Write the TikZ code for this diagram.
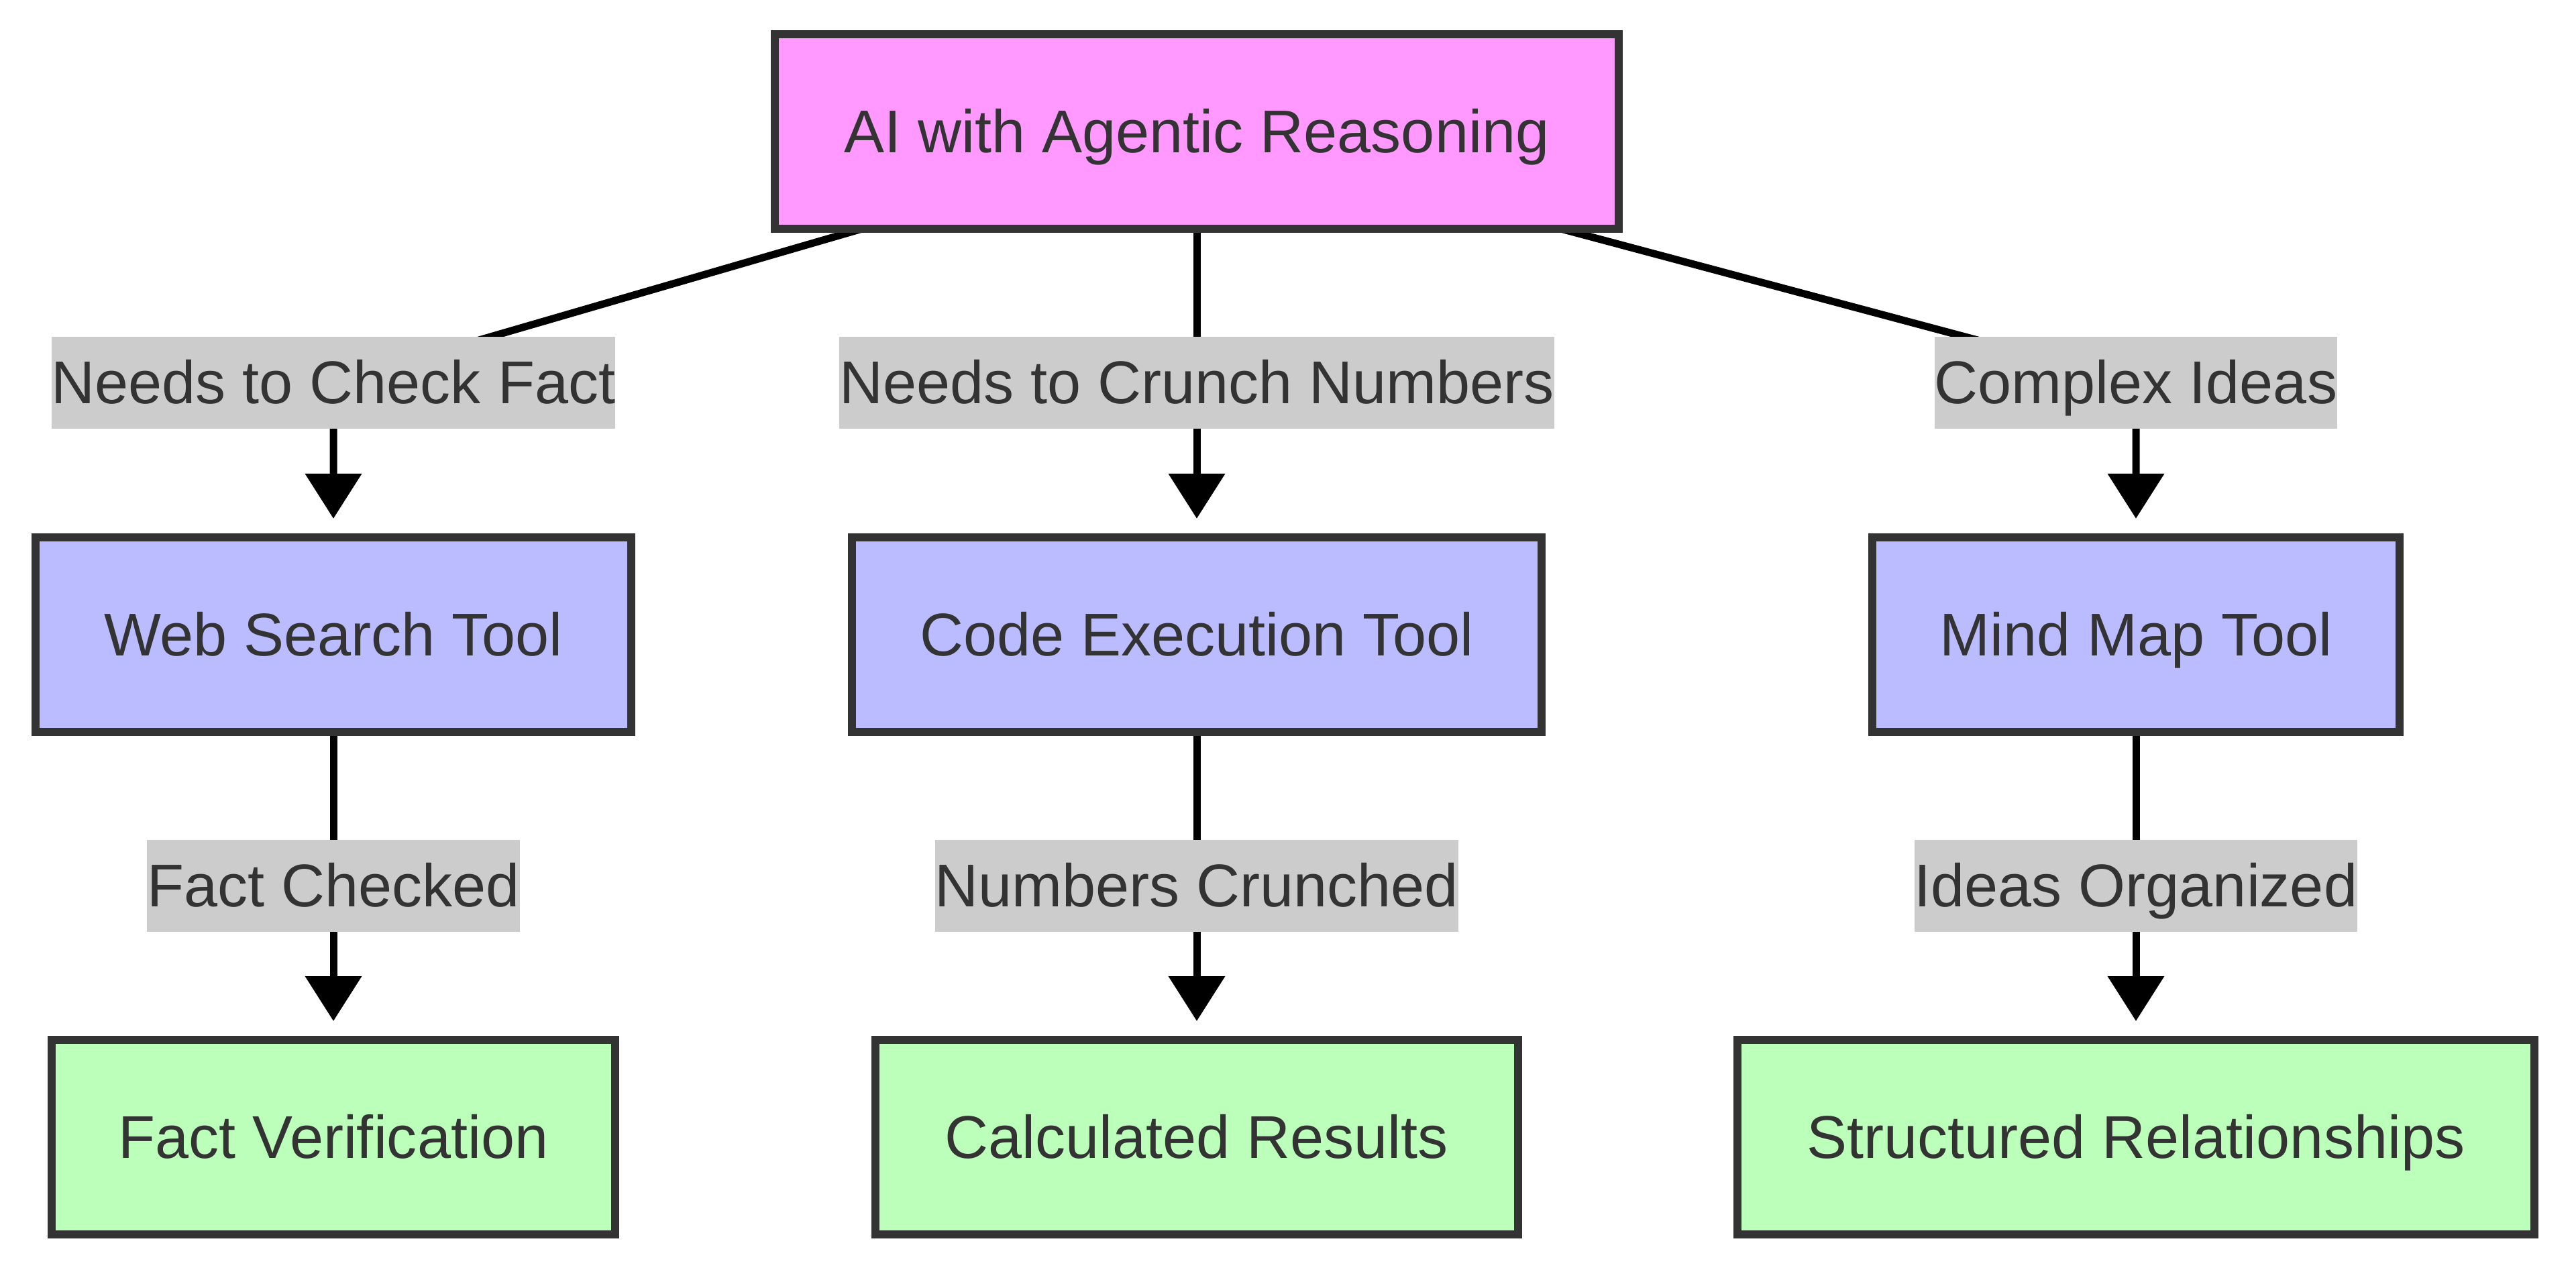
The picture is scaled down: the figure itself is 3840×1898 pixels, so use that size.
\documentclass[tikz,border=0pt]{standalone}
\usepackage{fontspec}
\setmainfont{Liberation Sans}
\usetikzlibrary{arrows.meta,backgrounds}
\definecolor{txt}{HTML}{333333}
\definecolor{pinkfill}{HTML}{FF99FF}
\definecolor{bluefill}{HTML}{BBBBFF}
\definecolor{greenfill}{HTML}{BBFFBB}
\definecolor{lblbg}{HTML}{CCCCCC}
\begin{document}
\begin{tikzpicture}[x=0.2pt,y=-0.2pt,
  txtstyle/.style={text=txt, font=\fontsize{18}{22}\selectfont,
    text height=16.3pt, text depth=3.8pt},
  box/.style={txtstyle, draw=txt, line width=2.4pt, minimum height=58pt,
    inner sep=0pt, outer sep=0pt},
  lbl/.style={txtstyle, fill=lblbg, inner xsep=0pt, inner ysep=0pt,
    minimum height=27.4pt, outer sep=0pt},
  edge/.style={draw=black, line width=2.2pt,
    -{Triangle[width=16.4pt,length=13.4pt]}, shorten >=5.6pt}
]
\useasboundingbox (0,0) rectangle (3840,1898);

\node[box, fill=pinkfill, minimum width=251.6pt] (top) at (1784,196) {AI with Agentic Reasoning};

\node[box, fill=bluefill, minimum width=177.6pt] (web) at (497,946) {Web Search Tool};
\node[box, fill=bluefill, minimum width=205.6pt] (code) at (1784,946) {Code Execution Tool};
\node[box, fill=bluefill, minimum width=157.2pt] (mind) at (3184,946) {Mind Map Tool};

\node[box, fill=greenfill, minimum width=168pt] (fact) at (497,1695) {Fact Verification};
\node[box, fill=greenfill, minimum width=191.6pt] (calc) at (1784,1695) {Calculated Results};
\node[box, fill=greenfill, minimum width=237.6pt] (struct) at (3184,1695) {Structured Relationships};

\node[lbl] (l1) at (497,570) {Needs to Check Fact};
\node[lbl] (l2) at (1784,570) {Needs to Crunch Numbers};
\node[lbl] (l3) at (3184,570) {Complex Ideas};
\node[lbl] (l4) at (497,1320) {Fact Checked};
\node[lbl] (l5) at (1784,1320) {Numbers Crunched};
\node[lbl] (l6) at (3184,1320) {Ideas Organized};

\begin{pgfonlayer}{background}
\draw[edge] (top) -- (l1.center) -- (web);
\draw[edge] (top) -- (l2.center) -- (code);
\draw[edge] (top) -- (l3.center) -- (mind);
\draw[edge] (web) -- (l4.center) -- (fact);
\draw[edge] (code) -- (l5.center) -- (calc);
\draw[edge] (mind) -- (l6.center) -- (struct);
\end{pgfonlayer}
\end{tikzpicture}
\end{document}
